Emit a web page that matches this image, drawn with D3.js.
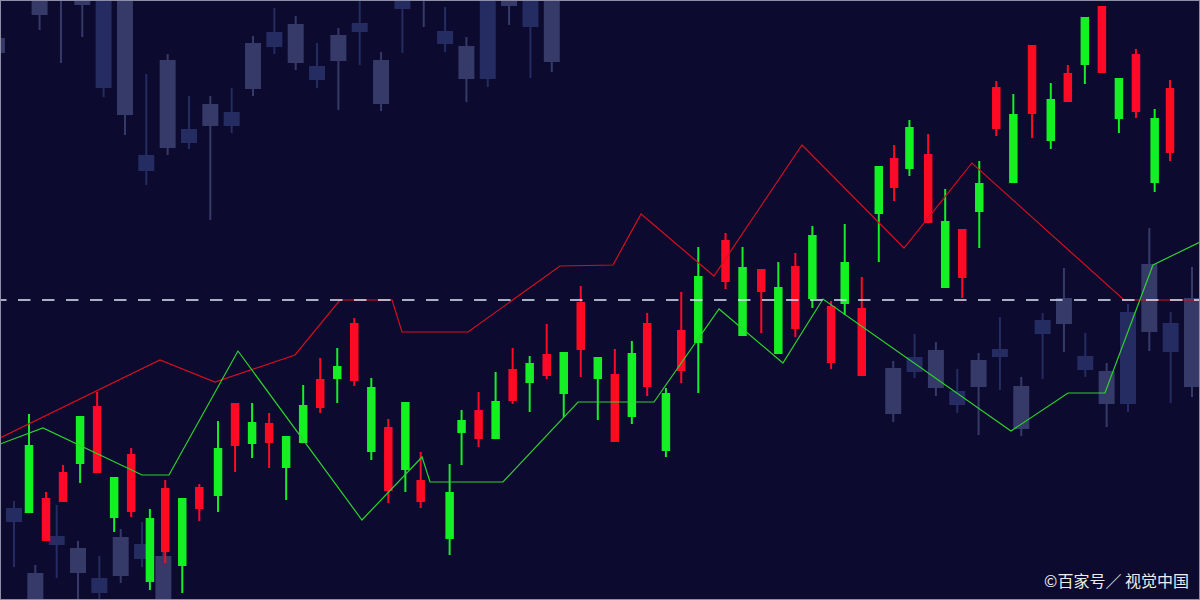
<!DOCTYPE html>
<html>
<head>
<meta charset="utf-8">
<script src="https://cdn.jsdelivr.net/npm/d3@7"></script>
<style>
  html, body { margin: 0; padding: 0; background: #0c0a2e; }
  svg { display: block; }
</style>
</head>
<body>
<div id="chart"></div>
<script>

// bright candles (front layer)
const fgDay = [0, 1, 2, 3, 4, 5, 6, 7.1, 8, 9, 10, 11.1, 12.1, 13.1, 14.1, 15.1, 16.1, 17.1, 18.1, 19.1,
	20.1, 21.1, 22.1, 23, 24.7, 25.4, 26.4, 27.4, 28.4, 29.4, 30.4, 31.4, 32.4, 33.4, 34.4, 35.4, 36.3, 37.4,
	38.3, 39.3, 40.9, 41.9, 43, 44, 45, 46, 47.1, 47.9, 48.9, 49.9, 50.8, 51.7, 52.8, 53.8, 54.8, 55.8, 56.8,
	57.8, 58.9, 60, 61, 62, 63, 64, 65, 66.1, 67]
const fgOpen = [8.7, 10.2, 12.8, 13.6, 19.4, 8.2, 14.6, 1.8, 11.2, 3.4, 11.3, 10.4, 19.7, 15.6, 17.7, 13.2, 15.7, 22.1, 22.1, 27.7,
	14.8, 17.3, 13.0, 12.0, 6.1, 16.7, 19.0, 16.1, 23.1, 21.7, 24.6, 20.6, 29.8, 22.1, 22.6, 18.3, 27.7, 14.9,
	27.0, 25.7, 36.0, 26.4, 33.1, 24.6, 33.4, 30.1, 29.4, 29.6, 29.2, 38.6, 44.2, 43.1, 44.6, 31.2, 37.1, 38.8, 51.3,
	41.7, 55.5, 45.9, 52.7, 53.5, 59.4, 48.1, 54.6, 41.7, 51.2]
const fgHigh = [18.6, 10.8, 13.5, 18.4, 20.8, 12.3, 15.2, 9.1, 12.0, 10.2, 11.6, 17.9, 19.7, 19.7, 18.7, 16.4, 21.5, 24.2, 25.2, 28.2,
	22.2, 18.1, 19.8, 14.8, 13.6, 19.0, 20.8, 22.8, 25.2, 24.4, 27.6, 24.8, 31.4, 24.3, 25.1, 25.9, 28.7, 21.2,
	30.8, 35.3, 36.7, 35.3, 33.1, 33.8, 34.7, 37.4, 29.9, 37.6, 32.3, 43.4, 45.5, 48.0, 46.6, 41.1, 37.1, 43.9, 51.9,
	50.6, 55.5, 51.7, 53.5, 58.3, 59.4, 52.2, 55.1, 49.1, 52.0]
const fgLow = [8.7, 5.9, 9.8, 11.7, 12.7, 6.8, 8.3, 1.0, 3.7, 0.7, 7.9, 8.8, 12.8, 14.2, 13.2, 10.0, 15.7, 18.7, 19.7, 21.4,
	14.0, 9.7, 10.8, 9.2, 4.5, 13.5, 15.3, 16.1, 19.6, 18.8, 22.1, 18.3, 22.3, 18.0, 15.8, 17.6, 20.4, 14.3,
	21.7, 20.7, 31.1, 26.4, 26.7, 24.6, 26.3, 29.2, 23.1, 28.5, 22.4, 33.8, 39.9, 42.4, 37.7, 31.2, 30.2, 35.2, 46.4,
	41.7, 46.2, 45.1, 49.8, 51.6, 52.7, 46.7, 48.2, 40.8, 43.9]
const fgClose = [15.5, 5.9, 9.8, 18.4, 12.7, 12.3, 8.8, 8.2, 4.8, 10.2, 9.1, 15.2, 15.4, 17.8, 15.7, 16.4, 19.5, 19.2, 23.4, 21.9,
	21.3, 10.9, 19.8, 9.8, 10.8, 18.0, 16.1, 19.9, 19.9, 23.7, 22.4, 24.8, 25.0, 24.3, 15.8, 24.7, 21.3, 20.7,
	22.9, 32.4, 31.8, 33.3, 30.8, 31.3, 27.1, 36.5, 23.7, 33.8, 22.4, 43.4, 41.2, 47.3, 37.7, 37.9, 32.2, 41.7, 47.1,
	48.6, 48.6, 50.1, 49.8, 58.3, 52.7, 52.2, 48.8, 48.2, 44.7]

// faded candles behind, lower left group
const bgLowDay = [0, 1, 2, 3, 4, 5, 6, 7]
const bgLowOpen = [9.2, -0.5, 6.4, 2.7, 2.2, 2.4, 5.6, -0.5]
const bgLowHigh = [9.9, 3.5, 9.5, 5.9, 4.4, 7.1, 7.8, 5.1]
const bgLowLow = [3.3, -0.5, 2.2, -0.5, -0.5, 1.7, 3.3, -0.5]
const bgLowClose = [7.8, 2.7, 5.5, 5.2, 0.7, 6.3, 4.1, 4.4]

// faded candles behind, top and right group
const bgHighDay = [-0.8, 1.2, 2.2, 3.2, 4.2, 5.2, 6.2, 7.2, 8.2, 9.2, 10.2, 11.2, 12.2, 13.2, 14.2, 15.2, 16.2, 17.2,
	18.2, 19.2, 20.2, 21.2, 22.2, 23.2, 24.2, 25.2,
	41.2, 42.2, 43.2, 44.2, 45.2, 46.2, 47.2, 48.2, 49.2, 50.2, 51.2, 52.2, 53.2, 54.2, 55.2]
const bgHighOpen = [54.7, 58.5, 61, 59.5, 62, 48.5, 44.5, 45.2, 47.1, 47.4, 48.8, 51.1, 56.8, 53.7, 53.4, 53.9, 57.7, 49.6,
	61, 61, 56.9, 52.1, 62, 59.4, 62, 53.8,
	18.6, 24.3, 21.2, 20.9, 21.3, 25.1, 17.1, 28.0, 27.6, 24.4, 19.6, 28.8, 26.8, 27.7, 21.3]
const bgHighHigh = [56.2, 62, 63, 62, 62, 62, 52.6, 54.6, 50.4, 50.4, 51.2, 56.4, 59.2, 58.4, 55.7, 57.2, 60.5, 54.8,
	61, 63, 59.3, 56.3, 62, 62, 62, 62,
	23.9, 26.6, 25.8, 23.1, 24.7, 28.3, 22.3, 28.7, 33.2, 26.7, 23.7, 29.6, 37.2, 28.8, 33.3]
const bgHighLow = [54.7, 57, 53.7, 56.3, 50.3, 46.5, 41.5, 44.5, 45.1, 38.0, 46.7, 50.4, 54.6, 53.0, 51.2, 49.0, 53.5, 48.9,
	54.7, 57.3, 54.8, 49.8, 51.3, 57.5, 52.2, 52.8,
	17.8, 22.2, 20.4, 18.7, 16.5, 21.0, 16.4, 22.1, 24.8, 22.3, 17.3, 18.8, 24.9, 19.7, 20.3]
const bgHighClose = [56.2, 62, 63, 62, 51.2, 62, 42.9, 54.0, 45.7, 49.6, 47.4, 55.7, 55.3, 57.6, 52.0, 56.5, 56.8, 54.0,
	59.1, 63, 55.6, 55.4, 52.1, 62, 57.3, 62,
	23.2, 22.8, 25.0, 19.5, 24.0, 24.3, 21.4, 26.6, 30.2, 23.0, 22.9, 19.6, 33.6, 24.8, 30.2]

// the two averages (day, value)
const redDay = [-1.7, 7.69, 10.92, 15.62, 18.26, 21.32, 21.9, 25.78, 31.18, 34.29, 35.94, 40.22, 45.39, 51.38, 55.37, 64.3, 68.76]
const redValue = [16.2, 24.0, 21.8, 24.5, 30.0, 30.0, 26.8, 26.8, 33.4, 33.5, 38.6, 32.4, 45.5, 35.2, 43.7, 30.0, 30.0]
const greenDay = [-1.7, 0.82, 6.64, 8.22, 12.27, 19.55, 23.08, 23.55, 27.83, 32.24, 36.7, 40.52, 44.27, 46.62, 57.66, 61.01, 63.18, 66.0, 68.76]
const greenValue = [15.6, 17.2, 12.5, 12.5, 24.9, 8.0, 14.3, 11.8, 11.8, 19.8, 19.8, 29.1, 23.7, 30.1, 16.9, 20.7, 20.7, 33.5, 35.8]

const levelValue = 30.0
const credit = '©百家号／ 视觉中国'

const width = 1200
	, height = 600

const x = d3.scaleLinear().domain([0, 67]).range([29, 1170])
	, xb = d3.scaleLinear().domain([0, 55.2]).range([14, 1192])
	, y = d3.scaleLinear().domain([0, 60]).range([height, 0])

function zipCandles(day, open, high, low, close) {
	return day.map(function (d, i) {
		return { day: d, open: open[i], high: high[i], low: low[i], close: close[i] }
	})
}

const fg = zipCandles(fgDay, fgOpen, fgHigh, fgLow, fgClose)
	, bg = zipCandles(bgLowDay, bgLowOpen, bgLowHigh, bgLowLow, bgLowClose)
		.concat(zipCandles(bgHighDay, bgHighOpen, bgHighHigh, bgHighLow, bgHighClose))

const svg = d3.select('#chart').append('svg')
	.attr('width', width)
	.attr('height', height)

svg.append('rect')
	.attr('width', width)
	.attr('height', height)
	.attr('fill', '#0c0a2e')

// draws one candle group: wick + body
function drawCandles(g, data, xs, bodyW, upColor, downColor) {
	const c = g.selectAll('g')
		.data(data)
		.join('g')
		.attr('fill', d => d.close >= d.open ? upColor : downColor)
		.attr('stroke', d => d.close >= d.open ? upColor : downColor)

	c.append('line')
		.attr('x1', d => xs(d.day))
		.attr('x2', d => xs(d.day))
		.attr('y1', d => y(d.high))
		.attr('y2', d => y(d.low))
		.attr('stroke-width', 2)

	c.append('rect')
		.attr('x', d => xs(d.day) - bodyW / 2)
		.attr('width', bodyW)
		.attr('y', d => y(Math.max(d.open, d.close)))
		.attr('height', d => Math.max(1, y(Math.min(d.open, d.close)) - y(Math.max(d.open, d.close))))
		.attr('stroke', 'none')
}

drawCandles(svg.append('g').attr('id', 'bgCandles'), bg, xb, 16, '#363a68', '#242c62')
drawCandles(svg.append('g').attr('id', 'fgCandles'), fg, x, 8.5, '#14f024', '#ff0a24')

const line = d3.line()
	.x(d => x(d[0]))
	.y(d => y(d[1]))

svg.append('path')
	.datum(d3.zip(redDay, redValue))
	.attr('d', line)
	.attr('fill', 'none')
	.attr('stroke', '#d4101e')
	.attr('stroke-width', 1.2)

svg.append('path')
	.datum(d3.zip(greenDay, greenValue))
	.attr('d', line)
	.attr('fill', 'none')
	.attr('stroke', '#2ed22e')
	.attr('stroke-width', 1.2)

// dashed reference level
svg.append('line')
	.attr('x1', 0)
	.attr('x2', width)
	.attr('y1', y(levelValue))
	.attr('y2', y(levelValue))
	.attr('stroke', '#dce6f4')
	.attr('stroke-width', 1.6)
	.attr('stroke-dasharray', '12.5,11.5')
	.attr('stroke-dashoffset', 6)

svg.append('text')
	.attr('x', 1189)
	.attr('y', 587)
	.attr('text-anchor', 'end')
	.attr('font-family', '"Noto Sans CJK SC", "Noto Sans", sans-serif')
	.attr('font-size', 16)
	.attr('fill', '#ececec')
	.text(credit)

// thin frame round the picture
svg.append('rect')
	.attr('x', 0.5)
	.attr('y', 0.5)
	.attr('width', width - 1)
	.attr('height', height - 1)
	.attr('fill', 'none')
	.attr('stroke', '#8e8fa6')
	.attr('stroke-width', 1)

</script>
</body>
</html>
